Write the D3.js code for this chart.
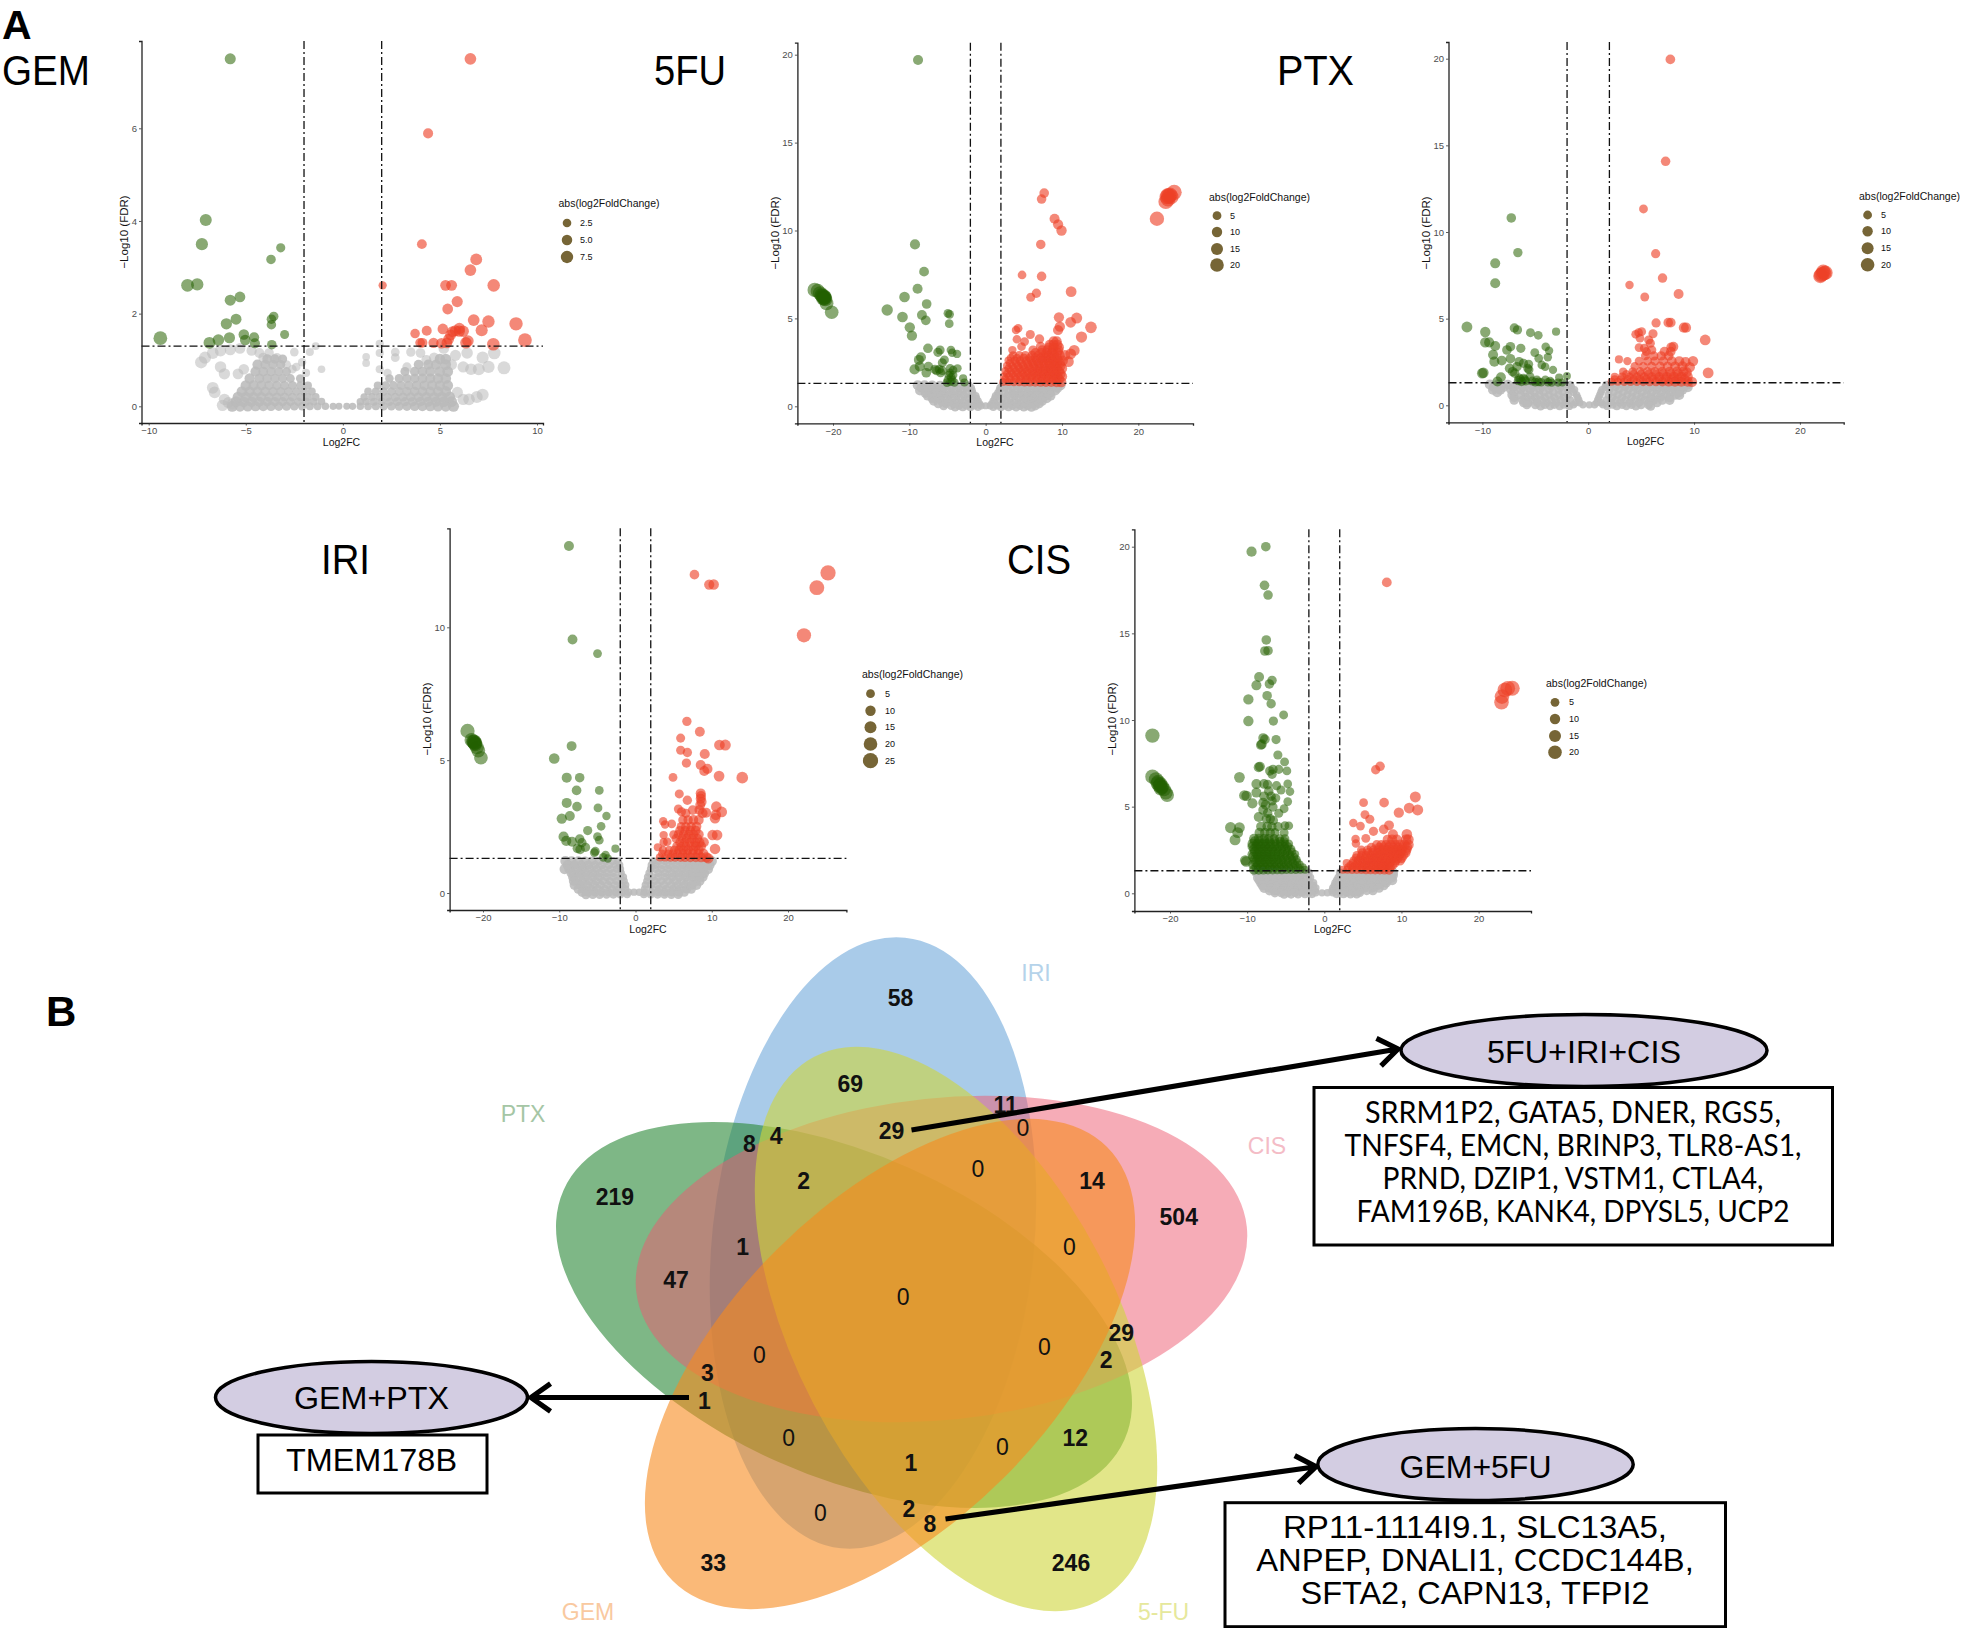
<!DOCTYPE html>
<html><head><meta charset="utf-8">
<script src="https://cdn.jsdelivr.net/npm/d3@7/dist/d3.min.js"></script>
<style>html,body{margin:0;padding:0;background:#fff}svg{display:block}</style>
</head><body>
<svg id="c" width="1961" height="1628"><defs><filter id="soft" x="-5%" y="-5%" width="110%" height="110%"><feGaussianBlur stdDeviation="0.6"/></filter></defs></svg>
<script>
// ---------- values: [log2FC, -log10 FDR] ----------
const gemGreen=[[-5.8,7.5],[-7.06,4.02],[-7.26,3.5],[-3.2,3.42],[-3.7,3.17],[-8,2.61],[-7.5,2.63],[-5.3,2.36],[-5.8,2.29],[-5.5,1.88],[-6,1.78],[-3.56,1.94],[-3.68,1.88],[-3.68,1.76],[-3,1.55],[-9.4,1.47],[-5.1,1.55],[-4.57,1.49],[-5.84,1.48],[-5.03,1.43],[-4.53,1.36],[-6.41,1.43],[-6.87,1.37],[-3.66,1.33]];
const gemRed=[[6.57,7.5],[4.39,5.89],[4.07,3.5],[6.87,3.17],[6.57,2.94],[2.05,2.61],[5.29,2.61],[5.6,2.61],[7.77,2.61],[5.89,2.26],[5.4,2.1],[6.74,1.86],[7.5,1.83],[8.92,1.78],[9.38,1.43],[7.15,1.64],[5.15,1.67],[4.32,1.63],[3.72,1.57],[6,1.68],[5.8,1.63],[5.65,1.61],[6,1.62],[6.2,1.62],[5.55,1.54],[5.45,1.45],[6.44,1.41],[7.75,1.34],[3.98,1.37],[4.1,1.37],[4.67,1.37],[5.08,1.36],[5.36,1.37],[6.34,1.37]];
const gemGrey=[[-7.3,.95],[-7.1,1.05],[-6.7,1.15],[-6.3,1.2],[-5.8,1.22],[-5.3,1.25],[-4.7,1.2],[-4.3,1.15],[-4.1,1.05],[-6.3,.85],[-6.1,.7],[-6.7,.4],[-6.6,.3],[-6.1,.15],[-5.9,.08],[-5.7,.05],[-6.2,.02],[-5.4,.7],[-5.1,.8],[-3.8,1.15],[-3.4,1.05],[-2.9,.9],[-2.6,.8],[-2.5,1.17],[-2.4,.85],[-2.1,.95],[-1.7,1.17],[-1.4,1.3],[-1.1,.8],[-1.9,.72],[1.2,.93],[1.2,1.07],[1.9,.8],[1.9,1.15],[1.9,1.35],[2.3,.72],[2.7,1.05],[2.7,1.17],[3.3,.85],[3.5,1.17],[4,1.15],[4.3,1],[4.7,1.05],[5.2,1.25],[5.8,1.1],[5.6,.9],[6.2,.85],[6.4,1.15],[6.6,.8],[7,.8],[7.2,1.05],[7.5,.85],[7.8,1.15],[8.3,.83],[5.9,.3],[6.2,.15],[6.5,.15],[6.9,.2],[7.2,.25]];
const gemGreyDense=[[0,[-5.7,-5.3,-4.9,-4.5,-4.1,-3.7,-3.3,-2.9,-2.5,-2.1,-1.7,-1.3,-.9,-.5,-.2,.2,.5,.9,1.3,1.7,2.1,2.5,2.9,3.3,3.7,4.1,4.5,4.9,5.3,5.7]],
 [.1,[-5.5,-5.1,-4.7,-4.3,-3.9,-3.5,-3.1,-2.7,-2.3,-1.9,-1.5,-1.1,.9,1.2,1.6,2,2.4,2.8,3.2,3.6,4,4.4,4.8,5.2,5.6]],
 [.2,[-5.4,-5,-4.6,-4.2,-3.8,-3.4,-3,-2.6,-2.2,-1.8,-1.4,1.1,1.5,1.9,2.3,2.7,3.1,3.5,3.9,4.3,4.7,5.1,5.5]],
 [.32,[-5.2,-4.8,-4.4,-4,-3.6,-3.2,-2.8,-2.4,-2,-1.6,1.3,1.7,2.1,2.5,2.9,3.3,3.7,4.1,4.5,4.9,5.3]],
 [.45,[-5,-4.6,-4.2,-3.8,-3.4,-3,-2.6,-2.2,-1.8,1.8,2.2,2.6,3,3.4,3.8,4.2,4.6,5,5.4]],
 [.6,[-4.8,-4.3,-3.9,-3.5,-3.1,-2.7,-2.2,2.4,2.9,3.3,3.7,4.1,4.5,4.9,5.3]],
 [.75,[-4.5,-4.1,-3.7,-3.3,-2.9,3.2,3.7,4.1,4.5,5,5.4]],
 [.9,[-4.4,-4,-3.6,-3.2,3.9,4.4,4.8,5.3]],
 [1.02,[-3.9,-3.5,-3.1,5,5.3]]];

const fuGreen=[[-8.86,19.7],[-9.26,9.21],[-8.07,7.66],[-8.92,6.69],[-10.63,6.22],[-7.73,5.82],[-12.9,5.48],[-4.94,5.29],[-4.72,5.23],[-10.9,5.08],[-8.35,5.19],[-7.84,4.89],[-4.77,4.7],[-9.94,4.49],[-9.66,4.02],[-7.56,3.3],[-5.97,3.2],[-6.25,3.07],[-4.55,3.2],[-4.38,3.05],[-3.75,2.98],[-8.47,2.79],[-8.75,2.64],[-5.4,2.64],[-5.68,2.48],[-9.32,2.1],[-8.64,2.26],[-7.78,1.91],[-7.5,2.26],[-6.65,2.1],[-6.08,2.1],[-5.68,2.03],[-4.66,2.16],[-4.26,2.07],[-3.69,2.16],[-4.83,1.78],[-4.26,1.78],[-4.94,1.5],[-4.38,1.5],[-5.06,1.35],[-4.09,1.35],[-2.95,1.59],[-2.78,1.35],[-6.42,2.03],[-5.9,1.91],[-4.66,1.91],[-22.4,6.62],[-22,6.56],[-21.7,6.43],[-21.4,6.27],[-21.1,6.2],[-21.3,6.14],[-21,6.08],[-20.85,5.86],[-20.17,5.35],[-21.5,6.33],[-21.2,6.27],[-21.08,6.18],[-21.25,6.2],[-21.15,6.12],[-4.5,1.65],[-4.6,1.4]];
const fuRed=[[24.7,12.17],[24.15,12.02],[23.75,11.92],[24.3,11.92],[23.6,11.64],[23.9,11.79],[22.44,10.67],[24,11.95],[23.9,12],[7.67,12.13],[7.33,11.79],[9.03,10.67],[9.49,10.35],[9.94,10],[7.22,9.21],[4.77,7.47],[7.33,7.39],[11.2,6.52],[6.65,6.43],[5.91,6.2],[9.6,5.06],[11.93,5.02],[11.14,4.78],[9.72,4.53],[9.49,4.34],[13.8,4.49],[12.56,3.94],[4.26,4.44],[3.98,4.34],[5.85,4.08],[4.09,3.81],[7.05,3.83],[11.6,3.18],[11.14,2.98],[10.85,2.54],[7.2,3.4],[4.7,3.4],[5.1,3.68],[10.4,2.9],[8.9,3.7],[9.3,3.7]];
const fuRedDense=[[1.38,[2.3,3,3.7,4.4,5.1,5.8,6.5,7.2,7.9,8.6,9.3,9.9]],[1.55,[2.6,3.3,4,4.7,5.4,6.1,6.8,7.5,8.2,8.9,9.6]],[1.7,[2.4,3.1,3.8,4.5,5.2,5.9,6.6,7.3,8,8.7,9.4,10]],[1.85,[2.8,3.5,4.2,4.9,5.6,6.3,7,7.7,8.4,9.1,9.8]],[2,[2.6,3.3,4,4.7,5.4,6.1,6.8,7.5,8.2,8.9,9.6]],[2.15,[3,3.7,4.4,5.1,5.8,6.5,7.2,7.9,8.6,9.3,10]],[2.3,[2.8,3.5,4.2,4.9,5.6,6.3,7,7.7,8.4,9.1,9.8]],[2.45,[3.2,4,4.7,5.5,6.2,6.9,7.6,8.3,9,9.7]],[2.6,[3,3.8,4.5,5.3,6,6.7,7.4,8.1,8.8,9.5,10.1]],[2.75,[3.3,4.1,5,5.8,6.5,7.2,7.9,8.6,9.3]],[2.9,[3.6,4.4,5.2,6.1,6.9,7.6,8.3,9,9.7]],[3.05,[6.5,7.3,8,8.7,9.4]],[3.2,[3.5,6.2,7.4,8.1,8.8,9.5]],[3.35,[8.3,8.9,9.6]],[3.5,[8.4,8.9,9.4]]];
const fuGrey=[[1.2,[-8.9,-8,-7,-6,-5,-4,-3,-2.2,2.2,3,4,5,6,7,8,9,9.8]],[1.05,[-8.4,-7.5,-6.5,-5.5,-4.5,-3.5,-2.5,-1.9,1.9,2.5,3.5,4.5,5.5,6.5,7.5,8.5,9.4]],[.9,[-8.6,-7.5,-7,-6,-5,-4,-3,-1.8,1.8,3,4,5,6,7,8,9.1]],[.75,[-7.9,-7,-6.5,-5.5,-4.5,-3.5,-2.5,-1.7,1.6,2.5,3.5,4.5,5.5,6.5,7.5,8.4]],[.6,[-7.6,-6.4,-5.8,-4.8,-3.8,-2.8,-1.8,-1.3,1.3,1.8,2.8,3.8,4.8,5.8,6.8,7.8,8.5]],[.45,[-7,-6.2,-5.3,-4.3,-3.3,-2.3,-1.2,1.2,2.3,3.3,4.3,5.3,6.3,7.3,8]],[.3,[-6.8,-5.8,-4.8,-3.8,-2.8,-1.8,-1,1,1.8,2.8,3.8,4.8,5.8,6.8,7.4]],[.15,[-6.2,-5.2,-4.2,-3.2,-2.2,-1.2,-.8,.8,1.2,2.2,3.2,4.2,5.2,6.2,7]],[.03,[-5.5,-4.5,-3.5,-2.5,-1.5,-.6,0,.6,1.5,2.5,3.5,4.5,5.5,6.5]],[-.05,[-4,-3,-2,-1,1,2,3,4,5,6]]];

const ptxGreen=[[-7.27,10.81],[-6.65,8.81],[-8.79,8.19],[-8.79,7.04],[-11.46,4.52],[-9.73,4.23],[-6.98,4.46],[-6.69,4.35],[-5.46,4.19],[-4.72,4.04],[-3.04,4.25],[-9.73,3.63],[-9.36,3.63],[-8.79,3.42],[-7.35,3.38],[-7.68,3.19],[-6.37,3.29],[-4.02,3.38],[-3.7,3.15],[-5.05,3.04],[-8.99,2.92],[-3.82,2.77],[-4.68,2.71],[-8.87,2.52],[-8.17,2.58],[-7.35,2.69],[-6.53,2.52],[-6.12,2.42],[-5.63,2.37],[-4.39,2.33],[-7.43,2.13],[-6.73,2.23],[-5.71,2.13],[-4.07,2.23],[-3.33,2.04],[-10.02,1.85],[-9.9,1.88],[-7.15,1.94],[-6.94,1.85],[-5.6,2.05],[-8.25,1.62],[-8.58,1.37],[-6.53,1.56],[-6.12,1.56],[-5.5,1.65],[-2.01,1.69],[-2.75,1.6],[-6.3,1.37],[-4.85,1.47],[-4.45,1.33],[-4.05,1.47],[-3.45,1.31],[-2.85,1.31],[-2.45,1.31],[-6.6,1.42],[-5.9,1.4],[-5,1.34],[-4.7,1.35],[-3.8,1.33],[-6.4,1.5],[-6,1.48],[-5.3,1.4],[-3.6,1.4]];
const ptxRed=[[7.76,19.96],[7.31,14.08],[5.22,11.33],[6.37,8.75],[7.02,7.34],[3.9,6.94],[5.34,6.25],[8.54,6.42],[6.41,4.75],[7.56,4.77],[7.8,4.77],[9.03,4.48],[9.24,4.48],[11.05,3.77],[11.33,1.87],[22.2,7.71],[22,7.52],[22.3,7.62],[22.13,7.58],[21.93,7.46],[22.42,7.65],[4.48,4.1],[4.76,4.19],[5.05,4.25],[6.12,4.13],[4.89,3.87],[5.71,3.77],[5.87,3.58],[8.05,3.38],[7.84,3.35],[4.8,3.33],[5.3,3.29],[6,3.19],[2.9,2.65],[3.7,2.55],[9.2,2.5],[9.9,2.55],[9.6,2.2],[9.3,1.9],[9.8,1.35]];
const ptxRedDense=[[1.36,[2.2,2.8,3.4,4,4.6,5.2,5.8,6.4,7,7.6,8.2,8.8,9.4]],[1.5,[2.5,3.1,3.7,4.3,4.9,5.5,6.1,6.7,7.3,7.9,8.5,9.1]],[1.65,[2.5,3.2,3.9,4.6,5.3,6,6.7,7.4,8.1,8.8,9.4]],[1.8,[3.6,4.3,5,5.7,6.4,7.1,7.8,8.5]],[1.95,[3.3,4.2,4.9,5.6,6.3,7,7.7,8.4,9]],[2.25,[4.4,5.2,6,6.8,7.5,8.2,8.9]],[2.55,[4.8,5.6,6.3,7.1,7.9,8.6]],[2.85,[5.4,6.2,6.9,7.6]],[3.1,[5.5,7.2,7.8]]];
const ptxGrey=[[1.2,[-9.3,-8.5,-7.6,-6.7,-5.8,-4.9,-4,-3.1,-2.2,-1.7,1.7,2.3,3.2,4.1,5,5.9,6.8,7.7,8.6,9.4]],[1.05,[-8.9,-8,-7.1,-6.2,-5.3,-4.4,-3.5,-2.6,-1.6,1.6,2.6,3.5,4.4,5.3,6.2,7.1,8,8.9,9.4]],[.9,[-9,-8.3,-7.3,-6.4,-5.5,-4.6,-3.7,-2.8,-1.9,-1.3,1.3,2,2.9,3.8,4.7,5.6,6.5,7.4,8.3,8.9]],[.75,[-8.6,-7,-6,-5.1,-4.2,-3.3,-2.4,-1.4,1.2,2.4,3.3,4.2,5.1,6,6.9,7.8,8.6]],[.6,[-7.2,-6.4,-5.5,-4.6,-3.7,-2.8,-1.9,-1.1,1.1,1.9,2.8,3.7,4.6,5.5,6.4,7.3,8.2,8.6]],[.45,[-7,-5.9,-5,-4.1,-3.2,-2.3,-1,1,2.3,3.2,4.1,5,5.9,6.8,7.7]],[.3,[-7,-6.2,-5.3,-4.4,-3.5,-2.6,-1.7,-.9,.9,1.7,2.6,3.5,4.4,5.3,6.2,7,7.7]],[.15,[-6.1,-5.7,-4.8,-3.9,-3,-2.1,-1.2,-.8,.8,1.2,2.1,3,3.9,4.8,5.7,6.5]],[.03,[-5.8,-5,-4.1,-3.2,-2.3,-1.4,-.5,.1,.6,1.4,2.3,3.2,4.1,5,5.7]],[-.05,[-4.5,-3.6,-2.7,-1.8,1.8,2.7,3.6,4.5,5.9]]];

const iriGreen=[[-8.73,13.06],[-8.26,9.54],[-4.98,9.01],[-22.03,6.1],[-21.5,5.76],[-21.2,5.67],[-21.03,5.6],[-20.8,5.48],[-20.62,5.36],[-20.27,5.09],[-21.3,5.7],[-21.1,5.63],[-21.15,5.7],[-21,5.65],[-8.38,5.53],[-10.66,5.06],[-9.02,4.34],[-7.32,4.34],[-7.73,3.86],[-4.75,3.86],[-9.02,3.39],[-7.67,3.25],[-4.92,3.2],[-8.61,2.9],[-9.67,2.8],[-3.81,2.9],[-4.51,2.51],[-6.27,2.35],[-4.98,2.12],[-9.43,2.12],[-9.08,1.96],[-8.32,1.93],[-7.32,2.03],[-4.75,1.99],[-7.03,1.89],[-6.56,1.72],[-7.62,1.68],[-7.26,1.64],[-2.64,1.67],[-5.27,1.57],[-5.39,1.52],[-3.93,1.43],[-4.22,1.34],[-3.63,1.3]];
const iriRed=[[25.25,12.05],[23.78,11.49],[22.09,9.7],[7.73,11.98],[9.67,11.61],[10.25,11.61],[6.74,6.46],[8.44,6.07],[5.92,5.83],[5.92,5.37],[6.8,5.29],[11.01,5.57],[11.78,5.57],[9.08,5.23],[6.68,4.89],[8.55,4.82],[9.43,4.67],[9.02,4.59],[10.96,4.4],[14,4.34],[4.92,4.35],[5.74,3.73],[8.55,3.75],[8.6,3.65],[8.55,3.55],[8.67,3.43],[6.8,3.49],[8.49,3.31],[10.6,3.25],[5.62,3.16],[6.03,3.06],[7.5,3.12],[8.38,3.12],[9.26,3.02],[11.3,3.05],[10.54,2.94],[10.43,2.81],[3.63,2.7],[4.75,2.6],[3.87,2.58],[3.69,2.18],[10.1,2.18],[10.7,2.18],[2.93,1.72],[3.69,1.91],[4.16,1.93],[8.96,1.91],[10.43,1.66],[9.55,1.3]];
const iriRedDense=[[1.34,[3.2,3.9,4.6,5.2,5.9,6.5,7.2,7.9,8.6,9.3]],[1.48,[3.5,4.3,4.9,5.5,6.2,6.8,7.5,8.2,8.9]],[1.62,[3.6,4.4,5.1,5.7,6.3,6.9,7.6,8.3]],[1.76,[5.4,6,6.6,7.3,7.9,8.6]],[1.9,[5.8,6.4,7.1,7.8,8.4]],[2.05,[5.3,6.1,6.7,7.4,8.1]],[2.2,[5,5.6,6.3,7,7.6,8.3]],[2.35,[5.8,6.5,7.2,7.9]],[2.5,[6,6.6,7.3,8]],[2.75,[6.2,6.9,7.6,8.3]],[3,[6.6,8.8]]];
const iriGrey=[[1.2,[-9.2,-8.4,-7.5,-6.6,-5.7,-4.8,-3.9,-3,-2.3,2.3,3,3.9,4.8,5.7,6.6,7.5,8.4,9.3,10]],[1.05,[-8.9,-8,-7.1,-6.2,-5.3,-4.4,-3.5,-2.6,-2.1,2.1,2.6,3.5,4.4,5.3,6.2,7.1,8,8.9,9.7]],[.9,[-9.3,-8.7,-7.8,-6.9,-6,-5.1,-4.2,-3.3,-2.4,-2,2,2.6,3.4,4.3,5.2,6.1,7,7.9,8.8,9.5]],[.75,[-8.4,-7.4,-6.5,-5.6,-4.7,-3.8,-2.9,-1.9,1.8,3,3.9,4.8,5.7,6.6,7.5,8.4,9]],[.6,[-8.2,-7.4,-6.5,-5.6,-4.7,-3.8,-2.9,-2,-1.6,1.6,2.2,3,3.9,4.8,5.7,6.6,7.5,8.4,8.8]],[.45,[-8.1,-7,-6.1,-5.2,-4.3,-3.4,-2.5,-1.5,1.5,2.5,3.4,4.3,5.2,6.1,7,7.9,8.4]],[.3,[-8,-7.2,-6.3,-5.4,-4.5,-3.6,-2.7,-1.8,-1.3,1.3,2,2.9,3.8,4.7,5.6,6.5,7.4,8]],[.15,[-7.5,-6.7,-5.8,-4.9,-4,-3.1,-2.2,-1.3,1.2,2.2,3.1,4,4.9,5.8,6.7,7.3]],[.03,[-7,-6.2,-5.3,-4.4,-3.5,-2.6,-1.7,-.9,-.2,.5,1.2,2.1,3,3.9,4.8,5.7,6.4]],[-.06,[-6.5,-5.6,-4.7,-3.8,-2.9,-2,-1.1,1.1,2,2.9,3.8,4.7,5.6]]];

const cisGreen=[[-7.58,20],[-9.43,19.71],[-7.75,17.77],[-7.29,17.21],[-7.52,14.62],[-7.7,13.98],[-7.29,14],[-8.45,12.48],[-6.77,12.29],[-8.8,12],[-7.12,12.08],[-7.41,11.4],[-9.84,11.19],[-6.89,10.94],[-5.27,10.29],[-9.84,9.94],[-6.6,9.94],[-22.28,9.1],[-7.93,8.96],[-6.25,8.87],[-7.7,8.88],[-8.1,8.6],[-8.22,8.56],[-6.02,7.98],[-5.15,7.58],[-8.51,7.27],[-8.34,7.31],[-7.06,7.06],[-6.65,7.15],[-5.9,7.15],[-4.85,7.06],[-6.77,6.87],[-11,6.69],[-8.8,6.31],[-7.81,6.31],[-7.35,6.27],[-6.19,6.21],[-4.74,6.31],[-5.61,5.96],[-4.45,5.87],[-10.36,5.65],[-10.07,5.62],[-8.8,5.81],[-9.32,5.19],[-7.93,5.23],[-4.74,5.29],[-6.77,5.33],[-6.65,4.98],[-5.21,4.88],[-7.93,4.81],[-7.35,4.62],[-5.9,4.62],[-7.8,5.6],[-7.2,5.9],[-6.9,5.6],[-7.6,5.1],[-7,4.3],[-6.3,5.5],[-22.28,6.73],[-21.82,6.58],[-21.53,6.44],[-21.24,6.31],[-21,6.15],[-20.78,6],[-20.54,5.81],[-20.37,5.67],[-21.6,6.35],[-21.3,6.25],[-21.1,6.1],[-21.4,6.2],[-21.2,6.05],[-12.15,3.79],[-11,3.79],[-11.23,3.5],[-11.57,3.08],[-10.13,1.83],[-10.25,1.9],[-8.5,4.4],[-7.5,4.3],[-6.6,4.2],[-5.1,3.9],[-4.6,3.9]];
const cisGreenDense=[[1.36,[-9.1,-8.5,-7.9,-7.3,-6.7,-6.1,-5.5,-4.9,-4.3,-3.7,-3.1,-2.5]],[1.5,[-8.8,-8.2,-7.6,-7,-6.4,-5.8,-5.2,-4.6,-4,-3.4,-2.8]],[1.65,[-9.2,-8.6,-8,-7.4,-6.8,-6.2,-5.6,-5,-4.4,-3.8,-3.2]],[1.8,[-8.9,-8.3,-7.7,-7.1,-6.5,-5.9,-5.3,-4.7,-4.1,-3.5]],[1.95,[-9,-8.4,-7.8,-7.2,-6.6,-6,-5.4,-4.8,-4.2,-3.6]],[2.1,[-9.2,-8.6,-8,-7.4,-6.8,-6.2,-5.6,-5,-4.4,-3.9]],[2.25,[-9.3,-8.7,-8.1,-7.5,-6.9,-6.3,-5.7,-5.1,-4.5,-3.8]],[2.4,[-9,-8.4,-7.8,-7.2,-6.6,-6,-5.4,-4.8,-4.2]],[2.55,[-9.1,-8.5,-7.9,-7.3,-6.7,-6.1,-5.5,-4.9,-4.3]],[2.7,[-9.3,-8.8,-8.2,-7.6,-7,-6.4,-5.8,-5.2,-4.7]],[2.85,[-9.3,-8.7,-8.1,-7.5,-6.9,-6.3,-5.7,-5.1,-4.6]],[3,[-9,-8.4,-7.7,-7.1,-6.4,-5.7,-5.2]],[3.15,[-9.1,-8.5,-7.8,-7.2,-6.5,-5.8,-5.1]],[3.5,[-8.4,-7.7,-7,-6.4,-5.2]],[3.85,[-8.2,-7.4,-6.8,-6]]];
const cisRed=[[8.1,17.94],[24.36,11.83],[23.78,11.83],[23.4,11.73],[23.03,11.35],[22.97,11.02],[7.23,7.33],[6.66,7.13],[11.8,5.56],[5.09,5.23],[7.75,5.23],[11,4.92],[12.1,4.81],[9.66,4.65],[5.27,4.54],[5.9,4.27],[3.76,4.06],[4.69,3.88],[8.39,3.92],[7.7,3.69],[6.37,3.58],[4.05,3.13],[5.38,3.17],[4.1,2.88],[2.9,1.75]];
const cisRedDense=[[1.36,[2.4,3,3.6,4.2,4.8,5.4,6,6.6,7.2,7.8,8.4]],[1.5,[3.1,3.7,4.3,4.9,5.5,6.1,6.7,7.3,7.9,8.5]],[1.62,[3.4,4,4.6,5.2,5.8,6.4,7,7.6,8.2,8.8]],[1.76,[3.7,4.3,4.9,5.5,6.1,6.7,7.3,7.9,8.5,9.1]],[1.9,[3.8,4.4,5,5.6,6.2,6.8,7.4,8,8.6,9.2,9.8]],[2.05,[4.1,4.7,5.3,5.9,6.5,7.1,7.7,8.3,8.9,9.5,10]],[2.2,[4.2,4.8,5.4,6,6.6,7.2,7.8,8.4,9,9.6,10.2]],[2.35,[4.9,5.7,6.3,6.9,7.5,8.1,8.7,9.3,9.9,10.5]],[2.5,[4.8,5.6,6.4,7,7.6,8.2,8.8,9.4,10,10.6]],[2.65,[6.1,7.1,7.7,8.3,8.9,9.5,10.1,10.7]],[2.8,[6.8,7.4,8,8.6,9.2,9.8,10.4,10.9]],[3.1,[8.2,8.8,9.4,10.6,10.9]],[3.4,[8.9,10.7]]];
const cisGrey=[[1.2,[-8.8,-8,-7.1,-6.2,-5.3,-4.4,-3.5,-2.6,-2,2,2.6,3.5,4.4,5.3,6.2,7.1,8,8.9]],[1.05,[-8.4,-7.5,-6.6,-5.7,-4.8,-3.9,-3,-2.1,2.1,3,3.9,4.8,5.7,6.6,7.5,8.4,8.9]],[.9,[-8.6,-7.9,-7,-6.1,-5.2,-4.3,-3.4,-2.5,-1.8,1.8,2.4,3.3,4.2,5.1,6,6.9,7.8,8.7]],[.75,[-8.4,-7.5,-6.6,-5.7,-4.8,-3.9,-3,-2,1.6,2.8,3.7,4.6,5.5,6.4,7.3,8.2,8.8]],[.6,[-8.2,-7.4,-6.5,-5.6,-4.7,-3.8,-2.9,-2,-1.4,1.4,2,2.9,3.8,4.7,5.6,6.5,7.4,8]],[.45,[-8,-7,-6.1,-5.2,-4.3,-3.4,-2.5,-1.4,1.3,2.4,3.3,4.2,5.1,6,6.9,7.7]],[.3,[-7.8,-7,-6.1,-5.2,-4.3,-3.4,-2.5,-1.6,-1.1,1.1,1.7,2.6,3.5,4.4,5.3,6.2,7.1]],[.15,[-7.1,-6.4,-5.5,-4.6,-3.7,-2.8,-1.9,-1.2,1,1.9,2.8,3.7,4.6,5.5,6.3]],[.03,[-6.4,-5.6,-4.7,-3.8,-2.9,-2,-1.1,-.3,.4,1.1,2,2.9,3.8,4.6]],[-.06,[-5.2,-4.3,-3.4,-2.5,-1.6,1.6,2.5,3.4,4.2]]];

const legendGem=[2.5,5,7.5], legendTwenty=[5,10,15,20], legendIri=[5,10,15,20,25];
const legendGemLabels=["2.5","5.0","7.5"];
const xTicksGem=[-10,-5,0,5,10], xTicksWide=[-20,-10,0,10,20], xTicksPtx=[-10,0,10,20];
const yTicksGem=[0,2,4,6], yTicksTwenty=[0,5,10,15,20], yTicksIri=[0,5,10];

const vennSets=["IRI","PTX","5-FU","CIS","GEM"];
const vennCounts=["58","69","11","0","29","8","4","2","0","14","219","504","1","0","47","0","29","0","0","2","3","1","0","12","1","0","2","8","0","33","246"];
const geneLists={
 triple:["SRRM1P2, GATA5, DNER, RGS5,","TNFSF4, EMCN, BRINP3, TLR8-AS1,","PRND, DZIP1, VSTM1, CTLA4,","FAM196B, KANK4, DPYSL5, UCP2"],
 gemFu:["RP11-1114I9.1, SLC13A5,","ANPEP, DNALI1, CCDC144B,","SFTA2, CAPN13, TFPI2"],
 gemPtx:["TMEM178B"]};

// ---------- layout (pixels) kept apart from the values ----------
const rows=r=>r.flatMap(([y,xs])=>xs.map(x=>[x,y]));
const panels=[
 {title:"GEM",tw:88,tx:2,ty:85,L:141.5,R:543,T:41,B:423,xa:[-10,148.7,10,537],ya:[0,406.3,6,128.3],xt:xTicksGem,yt:yTicksGem,
  sparse:gemGrey,grey:rows(gemGreyDense),green:gemGreen,red:gemRed,r:[3.4,.37],ylx:124,yly:232,xlx:341.5,xly:446,
  leg:{tx:558.5,ty:207,mx:567,lx:580,ys:[223,240,257],v:legendGem,lab:legendGemLabels}},
 {title:"5FU",tw:72,tx:654,ty:85,L:797.4,R:1193,T:42.7,B:423.3,xa:[-20,833,20,1138.3],ya:[0,406.3,20,54.7],xt:xTicksWide,yt:yTicksTwenty,
  sparse:[],grey:rows(fuGrey),green:fuGreen,red:fuRed.concat(rows(fuRedDense)),r:[3.6,.16],ylx:775,yly:233,xlx:995,xly:446,
  leg:{tx:1209,ty:201,mx:1217,lx:1230,ys:[215.7,232,249,265],v:legendTwenty}},
 {title:"PTX",tw:77,tx:1277,ty:85,L:1448.5,R:1843.7,T:42,B:422.3,xa:[-10,1482.4,20,1799.9],ya:[0,405.3,20,58.7],xt:xTicksPtx,yt:yTicksTwenty,
  sparse:[],grey:rows(ptxGrey),green:ptxGreen,red:ptxRed.concat(rows(ptxRedDense)),r:[3.6,.16],ylx:1425.5,yly:233,xlx:1645.7,xly:445,
  leg:{tx:1859,ty:200,mx:1867.6,lx:1881,ys:[215,231.3,248.3,264.7],v:legendTwenty}},
 {title:"IRI",tw:49,tx:321,ty:574,L:449.6,R:846.4,T:528.3,B:910,xa:[-20,483,20,788],ya:[0,893,10,627.3],xt:xTicksWide,yt:yTicksIri,
  sparse:[],grey:rows(iriGrey),green:iriGreen,red:iriRed.concat(rows(iriRedDense)),r:[3.6,.16],ylx:427,yly:719,xlx:648,xly:933,
  leg:{tx:862,ty:678,mx:870.5,lx:885,ys:[693.7,710.7,727.3,744,760.7],v:legendIri}},
 {title:"CIS",tw:64,tx:1007,ty:574,L:1134.4,R:1531,T:529.3,B:911,xa:[-20,1170,20,1478.6],ya:[0,893.3,20,546.7],xt:xTicksWide,yt:yTicksTwenty,
  sparse:[],grey:rows(cisGrey),green:cisGreen.concat(rows(cisGreenDense)),red:cisRed.concat(rows(cisRedDense)),r:[3.6,.16],ylx:1111.6,yly:719,xlx:1332.6,xly:933,
  leg:{tx:1546,ty:687,mx:1555,lx:1569,ys:[702.3,719,736,752.3],v:legendTwenty}}
];
const svg=d3.select("#c");
const SANS="'Liberation Sans',Arial,sans-serif";
svg.append("rect").attr("width",1961).attr("height",1628).attr("fill","#fff");

panels.forEach(p=>{
 const g=svg.append("g");
 const xs=d3.scaleLinear().domain([p.xa[0],p.xa[2]]).range([p.xa[1],p.xa[3]]);
 const ys=d3.scaleLinear().domain([p.ya[0],p.ya[2]]).range([p.ya[1],p.ya[3]]);
 const x=d3.scaleLinear().domain([xs.invert(p.L),xs.invert(p.R)]).range([p.L,p.R]);
 const y=d3.scaleLinear().domain([ys.invert(p.B),ys.invert(p.T)]).range([p.B,p.T]);
 const rad=v=>p.r[0]+p.r[1]*Math.abs(v);
 const marks=g.append("g").attr("filter","url(#soft)");
 const dots=(d,c,a)=>marks.append("g").selectAll("circle").data(d).join("circle")
   .attr("cx",v=>x(v[0])).attr("cy",v=>y(v[1])).attr("r",v=>rad(v[0])).attr("fill",c).attr("fill-opacity",a);
 dots(p.sparse,"#b9b9b9",.55); dots(p.grey,"#bbbbbb",.88); dots(p.green,"#256108",.55); dots(p.red,"#ee4027",.62);
 const dash="8 3 2 3";
 [-2,2].forEach(v=>g.append("line").attr("x1",x(v)).attr("x2",x(v)).attr("y1",p.T).attr("y2",p.B)
   .attr("stroke","#111").attr("stroke-width",1.3).attr("stroke-dasharray",dash));
 g.append("line").attr("x1",p.L).attr("x2",p.R).attr("y1",y(1.3)).attr("y2",y(1.3))
   .attr("stroke","#111").attr("stroke-width",1.3).attr("stroke-dasharray",dash);
 const fmt=d=>String(d).replace("-","\u2212");
 const ax=g.append("g").attr("transform",`translate(0,${p.B})`).call(d3.axisBottom(x).tickValues(p.xt).tickFormat(fmt).tickSizeOuter(0).tickSize(2.5).tickPadding(2));
 const ay=g.append("g").attr("transform",`translate(${p.L},0)`).call(d3.axisLeft(y).tickValues(p.yt).tickFormat(fmt).tickSizeOuter(0).tickSize(2.5).tickPadding(2));
 [ax,ay].forEach(a=>{a.selectAll("text").attr("font-family",SANS).attr("font-size",9.5).attr("fill","#4d4d4d");
   a.select(".domain").attr("stroke","#222").attr("stroke-width",1.3);a.selectAll(".tick line").attr("stroke","#333").attr("stroke-width",.8);});
 g.append("text").attr("x",p.xlx).attr("y",p.xly).attr("text-anchor","middle").attr("font-family",SANS).attr("font-size",10.5).attr("fill","#111").text("Log2FC");
 g.append("text").attr("transform",`translate(${p.ylx},${p.yly}) rotate(-90)`).attr("text-anchor","middle").attr("dy",".35em").attr("font-family",SANS).attr("font-size",11.5).attr("fill","#111").text("\u2212Log10 (FDR)");
 g.append("text").attr("x",p.tx).attr("y",p.ty).attr("font-family",SANS).attr("font-size",42).attr("fill","#000")
   .attr("textLength",p.tw).attr("lengthAdjust","spacingAndGlyphs").text(p.title);
 const L=p.leg;
 g.append("text").attr("x",L.tx).attr("y",L.ty).attr("font-family",SANS).attr("font-size",10.5).attr("fill","#111").text("abs(log2FoldChange)");
 L.v.forEach((v,i)=>{
  g.append("circle").attr("cx",L.mx).attr("cy",L.ys[i]).attr("r",rad(v)).attr("fill","#766536");
  g.append("text").attr("x",L.lx).attr("y",L.ys[i]).attr("dy",".35em").attr("font-family",SANS).attr("font-size",9).attr("fill","#111").text(L.lab?L.lab[i]:v);
 });
});

// panel letters
svg.append("text").attr("x",2).attr("y",39).attr("font-family",SANS).attr("font-weight",700).attr("font-size",41).text("A");
svg.append("text").attr("x",46).attr("y",1026).attr("font-family",SANS).attr("font-weight",700).attr("font-size",42).text("B");

// ---------- Venn ----------
const petals=[
 {c:[873,1243],rx:161,ry:307,rot:6,fill:"#5b9bd5",op:.52},
 {c:[844,1315],rx:307,ry:161,rot:24,fill:"#2f8a3c",op:.62},
 {c:[941.5,1259],rx:307,ry:161,rot:-6,fill:"#ee5a70",op:.5},
 {c:[956,1329],rx:161,ry:307,rot:-27.5,fill:"#cfd63a",op:.6},
 {c:[890,1364],rx:307,ry:161,rot:-45,fill:"#f68a1e",op:.6}];
svg.append("g").selectAll("ellipse").data(petals).join("ellipse")
 .attr("rx",d=>d.rx).attr("ry",d=>d.ry).attr("fill",d=>d.fill).attr("fill-opacity",d=>d.op)
 .attr("transform",d=>`translate(${d.c[0]},${d.c[1]}) rotate(${d.rot})`);
const vx=z=>480+z/1.912, vy=z=>930+z/2.246;
const vennPos=[[804,153],[708,346],[1005,393],[1038,444],[787,451],[515,480],[566,462],[619,563],[952,537],[1170,564],[258,600],[1336,645],[502,712],[1127,712],[375,786],[809,823],[1226,905],[534,955],[1079,935],[1197,965],[435,994],[429,1058],[590,1141],[1138,1141],[824,1197],[999,1160],[820,1300],[860,1333],[651,1308],[446,1420],[1130,1420]];
svg.append("g").selectAll("text").data(vennCounts).join("text")
 .attr("x",(d,i)=>vx(vennPos[i][0])).attr("y",(d,i)=>vy(vennPos[i][1])).attr("dy",".36em").attr("text-anchor","middle")
 .attr("font-family",SANS).attr("font-size",23).attr("font-weight",d=>d==="0"?400:700).attr("fill","#111").text(d=>d);
const setPos=[[1036,981,"#b5d3ea"],[523,1122,"#a5c6a5"],[1163.6,1620,"#e6e89c"],[1267,1154,"#f4bcc6"],[588,1620,"#f9c9a0"]];
svg.append("g").selectAll("text").data(vennSets).join("text")
 .attr("x",(d,i)=>setPos[i][0]).attr("y",(d,i)=>setPos[i][1]).attr("text-anchor","middle")
 .attr("font-family",SANS).attr("font-size",23).attr("fill",(d,i)=>setPos[i][2]).text(d=>d);

// callouts
const arrows=[[911.5,1130,1398,1049],[689,1397.5,531,1397.5],[945.5,1519,1316,1466.7]];
arrows.forEach(([x1,y1,x2,y2])=>{
 const a=Math.atan2(y2-y1,x2-x1), h=24, s=.62;
 const line=d3.path();line.moveTo(x1,y1);line.lineTo(x2,y2);
 line.moveTo(x2-h*Math.cos(a-s),y2-h*Math.sin(a-s));line.lineTo(x2,y2);line.lineTo(x2-h*Math.cos(a+s),y2-h*Math.sin(a+s));
 svg.append("path").attr("d",line.toString()).attr("fill","none").attr("stroke","#000").attr("stroke-width",5.2);
});
const boxes=[
 {x:1314,y:1087.5,w:518.5,h:157.5,lines:geneLists.triple,font:"Lato,sans-serif",fs:30,cx:1573,base:[1123,1155.7,1189,1221.7],len:[416,457,381,433]},
 {x:1225,y:1502.7,w:500.5,h:124,lines:geneLists.gemFu,font:SANS,fs:31,cx:1475,base:[1538.3,1571,1604],len:[384,437.5,349]},
 {x:258,y:1435,w:229,h:58,lines:geneLists.gemPtx,font:SANS,fs:30.5,cx:371.5,base:[1470.7],len:[171]}];
boxes.forEach(b=>{
 svg.append("rect").attr("x",b.x).attr("y",b.y).attr("width",b.w).attr("height",b.h).attr("fill","#fff").attr("stroke","#000").attr("stroke-width",3);
 b.lines.forEach((t,i)=>{
  svg.append("text").attr("x",b.cx).attr("y",b.base[i]).attr("text-anchor","middle").attr("font-family",b.font).attr("font-size",b.fs).attr("fill","#000")
   .attr("textLength",b.len[i]).attr("lengthAdjust","spacingAndGlyphs").text(t);
 });
});
const ovals=[
 {cx:1584,cy:1050.5,rx:183,ry:36,t:"5FU+IRI+CIS",b:1062.7,w:194},
 {cx:371.5,cy:1397.5,rx:156,ry:36,t:"GEM+PTX",b:1408.6,w:155},
 {cx:1475.5,cy:1464.5,rx:157.7,ry:36,t:"GEM+5FU",b:1478,w:152}];
ovals.forEach(o=>{
 svg.append("ellipse").attr("cx",o.cx).attr("cy",o.cy).attr("rx",o.rx).attr("ry",o.ry).attr("fill","#d3cde2").attr("stroke","#000").attr("stroke-width",3.5);
 svg.append("text").attr("x",o.cx).attr("y",o.b).attr("text-anchor","middle").attr("font-family",SANS).attr("font-size",32).attr("fill","#000")
   .attr("textLength",o.w).attr("lengthAdjust","spacingAndGlyphs").text(o.t);
});
</script>
</body></html>
